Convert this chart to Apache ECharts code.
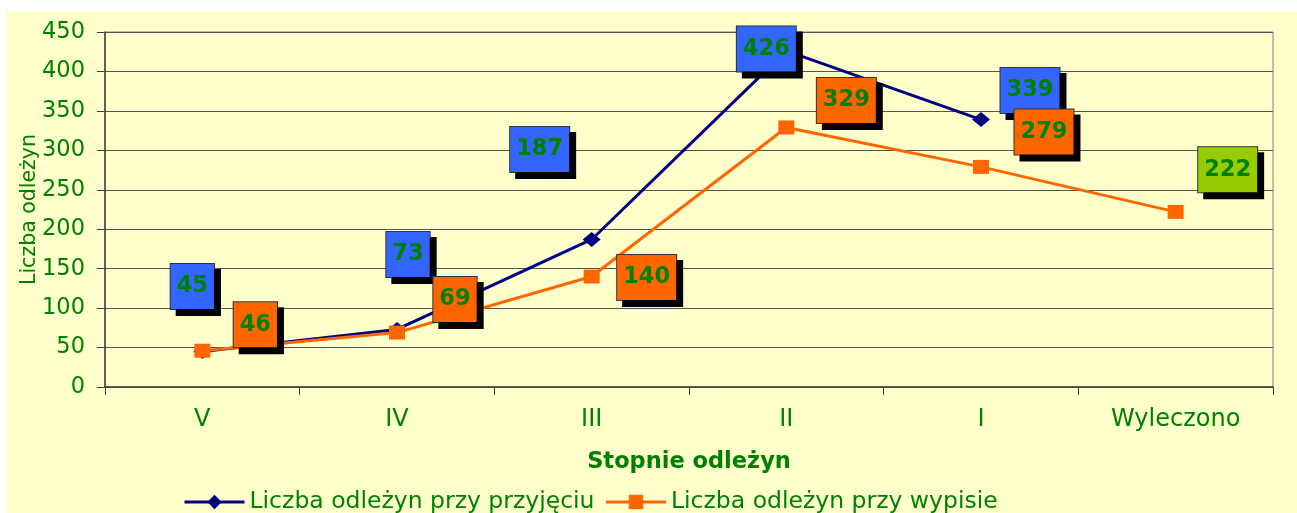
<!DOCTYPE html>
<html>
<head>
<meta charset="utf-8">
<script src="https://cdn.jsdelivr.net/npm/echarts@6/dist/echarts.min.js"></script>
<style>
html,body{margin:0;padding:0;background:#ffffff;width:1297px;height:513px;overflow:hidden;}
#chart{position:absolute;left:6px;top:12px;width:1291px;height:501px;}
</style>
</head>
<body>
<div id="chart"></div>
<script>
// ---- data ----
const categories = ['V', 'IV', 'III', 'II', 'I', 'Wyleczono'];
const seriesNames = ['Liczba odleżyn przy przyjęciu', 'Liczba odleżyn przy wypisie'];
const admission = [45, 73, 187, 426, 339, null];
const discharge = [46, 69, 140, 329, 279, 222];
const yTicks = { min: 0, max: 450, interval: 50 };
const yAxisTitle = 'Liczba odleżyn';
const xAxisTitle = 'Stopnie odleżyn';

// ---- label placement (style) ----
const admissionLabelOffsets = [[-10, -65], [11, -75], [-52, -90], [-20, -2], [49, -29], [0, 0]];
const dischargeLabelOffsets = [[53, -26], [58, -33], [55, 1], [60, -27], [63, -35], [52, -42]];

const GREEN = '#008000';
const FONT = '"DejaVu Sans", Verdana, sans-serif';

function boxLabel(bg) {
  return {
    show: true,
    position: 'inside',
    color: GREEN,
    fontFamily: FONT,
    fontWeight: 'bold',
    fontSize: 22.5,
    lineHeight: 23,
    backgroundColor: bg,
    borderColor: '#333333',
    borderWidth: 1,
    padding: [11, 6, 11, 6],
    shadowColor: '#000000',
    shadowBlur: 0,
    shadowOffsetX: 6,
    shadowOffsetY: 6
  };
}

const s1data = admission.map((v, i) => ({
  value: v == null ? '-' : v,
  label: Object.assign(boxLabel('#3366FF'), { offset: admissionLabelOffsets[i] })
}));
const s2data = discharge.map((v, i) => ({
  value: v,
  label: Object.assign(boxLabel(i === discharge.length - 1 ? '#99CC00' : '#FF6600'), { offset: dischargeLabelOffsets[i] })
}));

const chart = echarts.init(document.getElementById('chart'), null, { renderer: 'canvas' });
chart.setOption({
  backgroundColor: '#FFFFCC',
  animation: false,
  grid: {
    left: 99, top: 20, right: 24, bottom: 126,
    containLabel: false,
    outerBoundsMode: 'none',
    show: true, borderColor: '#808080', borderWidth: 1, backgroundColor: 'transparent'
  },
  legend: {
    top: 473,
    left: 172,
    itemWidth: 60,
    itemHeight: 18,
    itemGap: 10,
    lineStyle: { width: 3 },
    textStyle: { color: GREEN, fontSize: 23.5, lineHeight: 24, fontFamily: FONT },
    data: seriesNames
  },
  xAxis: {
    type: 'category',
    data: categories,
    boundaryGap: true,
    name: xAxisTitle,
    nameLocation: 'middle',
    nameGap: 64,
    nameTextStyle: { color: GREEN, fontSize: 22.5, fontWeight: 'bold', fontFamily: FONT },
    axisLine: { lineStyle: { color: '#404040', width: 1.5 } },
    axisTick: { show: true, length: 8, lineStyle: { color: '#404040' } },
    axisLabel: { color: GREEN, fontSize: 24, fontFamily: FONT, margin: 21 },
    splitLine: { show: false }
  },
  yAxis: {
    type: 'value',
    min: yTicks.min, max: yTicks.max, interval: yTicks.interval,
    name: yAxisTitle,
    nameLocation: 'middle',
    nameGap: 65,
    nameMoveOverlap: false,
    nameRotate: 90,
    nameTextStyle: { color: GREEN, fontSize: 20.5, fontFamily: FONT },
    axisLine: { show: true, lineStyle: { color: '#404040', width: 1.5 } },
    axisTick: { show: true, length: 8, lineStyle: { color: '#404040' } },
    axisLabel: { color: GREEN, fontSize: 22.5, fontFamily: FONT, margin: 20 },
    splitLine: { show: true, lineStyle: { color: '#555555', width: 1 } }
  },
  series: [
    {
      name: seriesNames[0],
      type: 'line',
      data: s1data,
      symbol: 'diamond',
      symbolSize: [18, 15],
      connectNulls: false,
      lineStyle: { color: '#000080', width: 3 },
      itemStyle: { color: '#000080' },
      z: 3
    },
    {
      name: seriesNames[1],
      type: 'line',
      data: s2data,
      symbol: 'rect',
      symbolSize: [16, 14],
      lineStyle: { color: '#FF6600', width: 3 },
      itemStyle: { color: '#FF6600' },
      z: 4
    }
  ]
});
</script>
</body>
</html>
